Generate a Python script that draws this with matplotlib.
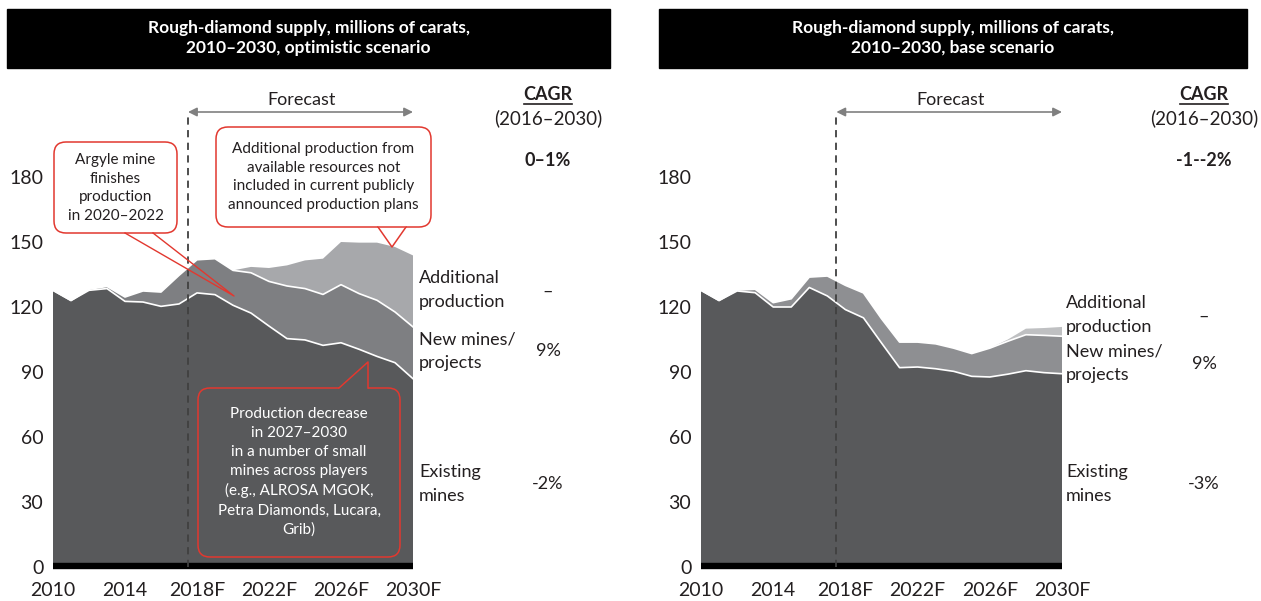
import numpy as np
import matplotlib.pyplot as plt
from matplotlib.patches import FancyBboxPatch, Polygon, Rectangle

plt.rcParams['font.family'] = ['Lato', 'DejaVu Sans']

# Data (millions of carats)
years = list(range(2010, 2031))
xtick_years = [2010, 2014, 2018, 2022, 2026, 2030]
xtick_labels = ['2010', '2014', '2018F', '2022F', '2026F', '2030F']
yticks = [0, 30, 60, 90, 120, 150, 180]

# optimistic scenario
existing_opt = [127.7, 123.0, 127.7, 128.5, 122.6, 122.3, 120.3, 121.4, 126.5, 125.7, 120.8,
                117.2, 111.2, 105.4, 104.8, 102.3, 103.5, 100.5, 97.2, 94.3, 86.9]
new_opt = [0, 0, 0.5, 1.0, 2.0, 5.1, 6.6, 13.2, 15.3, 16.6, 16.1,
           18.6, 20.6, 24.3, 23.7, 23.5, 26.8, 25.7, 25.9, 23.4, 23.9]
additional_opt = [0, 0, 0, 0, 0, 0, 0, 0, 0, 0, 0,
                  2.7, 6.2, 9.5, 13.0, 16.5, 19.7, 23.5, 26.6, 30.0, 33.0]

# base scenario
existing_base = [127.7, 123.0, 127.4, 126.6, 120.0, 120.0, 129.0, 125.1, 118.8, 115.0, 103.4,
                 92.0, 92.3, 91.5, 90.3, 88.0, 87.7, 89.0, 90.6, 89.7, 89.2]
new_base = [0, 0, 0.4, 1.6, 2.0, 3.8, 4.8, 9.2, 11.2, 11.5, 11.2,
            11.8, 11.5, 11.5, 10.7, 10.5, 13.3, 15.2, 16.6, 17.2, 17.3]
additional_base = [0, 0, 0, 0, 0, 0, 0, 0, 0, 0, 0,
                   0, 0, 0, 0, 0, 0, 0.8, 2.8, 3.4, 4.3]

cagr_opt = ['0–1%', '–', '9%', '-2%']
cagr_base = ['-1--2%', '–', '9%', '-3%']
titles = ['Rough-diamond supply, millions of carats,\n2010–2030, optimistic scenario',
          'Rough-diamond supply, millions of carats,\n2010–2030, base scenario']

TXT = '#231f20'
RED = '#e2382f'
DARK = '#58595b'
W, H = 1261, 601

fig = plt.figure(figsize=(12.61, 6.01), dpi=100)


def panel(left_px, right_px, existing, new, additional, c_new, c_add):
    ax = fig.add_axes([left_px / W, (H - 567) / H, (right_px - left_px) / W, 455 / H])
    ax.stackplot(years, existing, new, additional, colors=[DARK, c_new, c_add], lw=0)
    ex = np.array(existing)
    ax.plot(years, ex, color='white', lw=1.2)
    ax.plot(years, ex + np.array(new), color='white', lw=1.2)
    ax.plot([2010, 2030], [0.6, 0.6], color='black', lw=4.6, solid_capstyle='butt', clip_on=False)
    ax.plot([2017.5, 2017.5], [0, 210], color='#404040', lw=1.3, dashes=(4, 3), clip_on=False)
    ax.annotate('', xy=(2030, 210), xytext=(2017.5, 210),
                arrowprops=dict(arrowstyle='<|-|>', color='#808080', lw=1.2,
                                mutation_scale=13, shrinkA=0, shrinkB=0),
                annotation_clip=False)
    ax.text(2023.8, 212, 'Forecast', ha='center', va='bottom', fontsize=13, color=TXT)
    ax.set_xlim(2010, 2030)
    ax.set_ylim(0, 210)
    ax.set_xticks(xtick_years)
    ax.set_xticklabels(xtick_labels)
    ax.set_yticks(yticks)
    ax.tick_params(length=0, labelsize=14, labelcolor=TXT)
    ax.tick_params(axis='x', pad=11)
    ax.tick_params(axis='y', pad=7)
    for s in ax.spines.values():
        s.set_visible(False)
    ax.patch.set_visible(False)
    return ax


panel(53, 413, existing_opt, new_opt, additional_opt, '#7e7f82', '#a7a8ab')
panel(701, 1062, existing_base, new_base, additional_base, '#8e8f92', '#bfc0c2')

# overlay in pixel coordinates for headers, labels and callouts
ov = fig.add_axes([0, 0, 1, 1], zorder=10)
ov.set_xlim(0, W)
ov.set_ylim(H, 0)
ov.axis('off')
ov.patch.set_visible(False)

for (x0, x1), title in zip([(7, 610), (659, 1247)], titles):
    ov.add_patch(Rectangle((x0, 9), x1 - x0, 59, color='black'))
    ov.text((x0 + x1) / 2, 38, title, ha='center', va='center', color='white',
            fontsize=12.5, fontweight='bold', linespacing=1.3)

for cx, vals, ys in [(548, cagr_opt, [292, 351, 484]),
                     (1204, cagr_base, [317, 364, 484])]:
    ov.text(cx, 95, 'CAGR', ha='center', va='center', fontsize=13, fontweight='bold', color=TXT)
    ov.plot([cx - 24, cx + 24], [104, 104], color=TXT, lw=1.2)
    ov.text(cx, 118, '(2016–2030)', ha='center', va='center', fontsize=13.5, color=TXT)
    ov.text(cx, 160, vals[0], ha='center', va='center', fontsize=13, fontweight='bold', color=TXT)
    for v, y in zip(vals[1:], ys):
        ov.text(cx, y, v, ha='center', va='center', fontsize=13, color=TXT)

for lx, ys in [(419, [290, 351, 484]), (1066, [315, 363, 484])]:
    for lab, y in zip(['Additional\nproduction', 'New mines/\nprojects', 'Existing\nmines'], ys):
        ov.text(lx, y, lab, ha='left', va='center', fontsize=13, color=TXT, linespacing=1.6)

# callout 1: Argyle
ov.add_patch(FancyBboxPatch((54, 142), 123, 91, boxstyle='round,pad=0,rounding_size=12',
                            fc='white', ec=RED, lw=1.1))
ov.text(115.5, 188, 'Argyle mine\nfinishes\nproduction\nin 2020–2022', ha='center', va='center',
        fontsize=11, color=TXT, linespacing=1.45)
ov.plot([125, 234, 153], [233, 296, 233], color=RED, lw=1.0)

# callout 2: additional production
ov.add_patch(FancyBboxPatch((216, 127), 215, 100, boxstyle='round,pad=0,rounding_size=12',
                            fc='white', ec=RED, lw=1.1))
ov.add_patch(Polygon([(378, 229), (378, 226), (392, 247), (406, 226), (406, 229)],
                     closed=True, fc='white', ec='none'))
ov.plot([378, 392, 406], [227, 247, 227], color=RED, lw=1.1)
ov.text(323.5, 177, 'Additional production from\navailable resources not\n'
        'included in current publicly\nannounced production plans',
        ha='center', va='center', fontsize=11, color=TXT, linespacing=1.45)

# callout 3: production decrease
ov.add_patch(FancyBboxPatch((198, 388), 202, 169, boxstyle='round,pad=0,rounding_size=12',
                            fc=DARK, ec=RED, lw=1.1))
ov.add_patch(Polygon([(339, 390), (339, 388), (368, 362), (368, 390)],
                     closed=True, fc=DARK, ec='none'))
ov.plot([339, 368, 368], [388, 362, 388], color=RED, lw=1.1)
ov.text(299, 472, 'Production decrease\nin 2027–2030\nin a number of small\n'
        'mines across players\n(e.g., ALROSA MGOK,\nPetra Diamonds, Lucara,\nGrib)',
        ha='center', va='center', fontsize=11, color='white', linespacing=1.45)

fig.savefig('out.png', dpi=100)
